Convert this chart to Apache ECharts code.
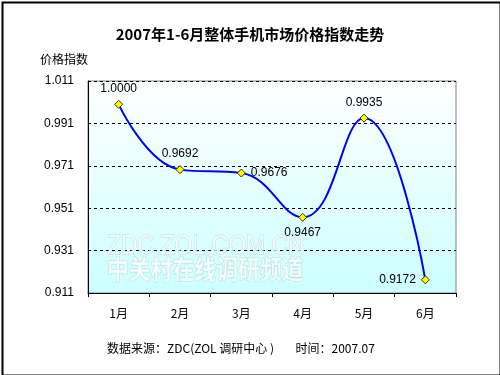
<!DOCTYPE html>
<html>
<head>
<meta charset="utf-8">
<script src="https://cdn.jsdelivr.net/npm/echarts@6/dist/echarts.min.js"></script>
<style>
  html, body { margin: 0; padding: 0; background: #fff; }
  #main { width: 500px; height: 375px; }
</style>
</head>
<body>
<div id="main"></div>
<script>
// données
const months = ['1月', '2月', '3月', '4月', '5月', '6月'];
const priceIndex = [1.0000, 0.9692, 0.9676, 0.9467, 0.9935, 0.9172];
const labelPos = ['top', 'top', 'right', 'bottom', 'top', 'left'];

const fontNum = 'Liberation Sans, Arial, Noto Sans CJK SC, sans-serif';
const fontCjk = 'Noto Sans CJK SC, sans-serif';

const chart = echarts.init(document.getElementById('main'));

const option = {
  backgroundColor: '#fff',
  animation: false,
  title: {
    text: '2007年1-6月整体手机市场价格指数走势',
    left: 'center',
    top: 22,
    textStyle: { fontSize: 15, fontWeight: 'bold', color: '#000', fontFamily: fontCjk }
  },
  grid: {
    left: 88, right: 44, top: 81, bottom: 82,
    show: true,
    borderColor: '#808080',
    borderWidth: 1,
    backgroundColor: new echarts.graphic.LinearGradient(0, 0, 0, 1, [
      { offset: 0, color: '#ffffff' },
      { offset: 1, color: '#ccffff' }
    ])
  },
  xAxis: {
    type: 'category',
    data: months,
    boundaryGap: true,
    axisLine: { lineStyle: { color: '#000', width: 1 } },
    axisTick: { show: true, length: 4, lineStyle: { color: '#000' } },
    axisLabel: { color: '#000', fontSize: 12, margin: 14, fontFamily: fontCjk },
    splitLine: { show: false }
  },
  yAxis: {
    type: 'value',
    min: 0.911,
    max: 1.011,
    interval: 0.02,
    name: '价格指数',
    nameLocation: 'end',
    nameGap: 16,
    nameTextStyle: { color: '#000', fontSize: 12, fontFamily: fontCjk, align: 'right' },
    axisLine: { show: true, lineStyle: { color: '#000', width: 1 } },
    axisTick: { show: false },
    axisLabel: {
      color: '#000', fontSize: 12, margin: 14, fontFamily: fontNum,
      formatter: v => v.toFixed(3)
    },
    splitLine: { show: true, lineStyle: { color: '#000', type: [3, 3], width: 1 } }
  },
  graphic: [
    // filigrane
    {
      type: 'text', x: 107, y: 233, scaleX: 0.85, silent: true, z: 1,
      style: {
        text: 'ZDC.ZOL.COM.CN', fontSize: 27, fontFamily: 'Liberation Sans, sans-serif',
        fill: 'rgba(255,255,255,0.7)', stroke: 'rgba(160,180,180,0.45)', lineWidth: 1
      }
    },
    {
      type: 'text', x: 107, y: 256, scaleX: 0.84, silent: true, z: 1,
      style: {
        text: '中关村在线调研频道', fontSize: 26, fontWeight: 'bold', fontFamily: fontCjk,
        fill: 'rgba(255,255,255,0.7)', stroke: 'rgba(160,180,180,0.45)', lineWidth: 1
      }
    },
    {
      type: 'text', left: 107, top: 342,
      style: {
        text: '数据来源：ZDC(ZOL 调研中心 )        时间：2007.07',
        fontSize: 12, fontFamily: fontCjk, fill: '#000'
      }
    },
    {
      type: 'rect', left: 0, top: 0, silent: true, z: 100,
      shape: { x: 0, y: 0, width: 498, height: 373 },
      style: { fill: 'none', stroke: '#000', lineWidth: 2 }
    }
  ],
  series: [
    {
      type: 'line',
      data: priceIndex.map((v, i) => ({ value: v, label: { position: labelPos[i] } })),
      smooth: 0.45,
      symbol: 'diamond',
      symbolSize: 8,
      showAllSymbol: true,
      lineStyle: { color: '#0000ff', width: 2 },
      itemStyle: { color: '#ffff00', borderColor: '#333300', borderWidth: 1 },
      label: {
        show: true,
        color: '#000',
        fontSize: 12,
        fontFamily: fontNum,
        distance: 5,
        formatter: p => p.value.toFixed(4)
      },
      z: 3
    }
  ]
};

chart.setOption(option);
</script>
</body>
</html>
